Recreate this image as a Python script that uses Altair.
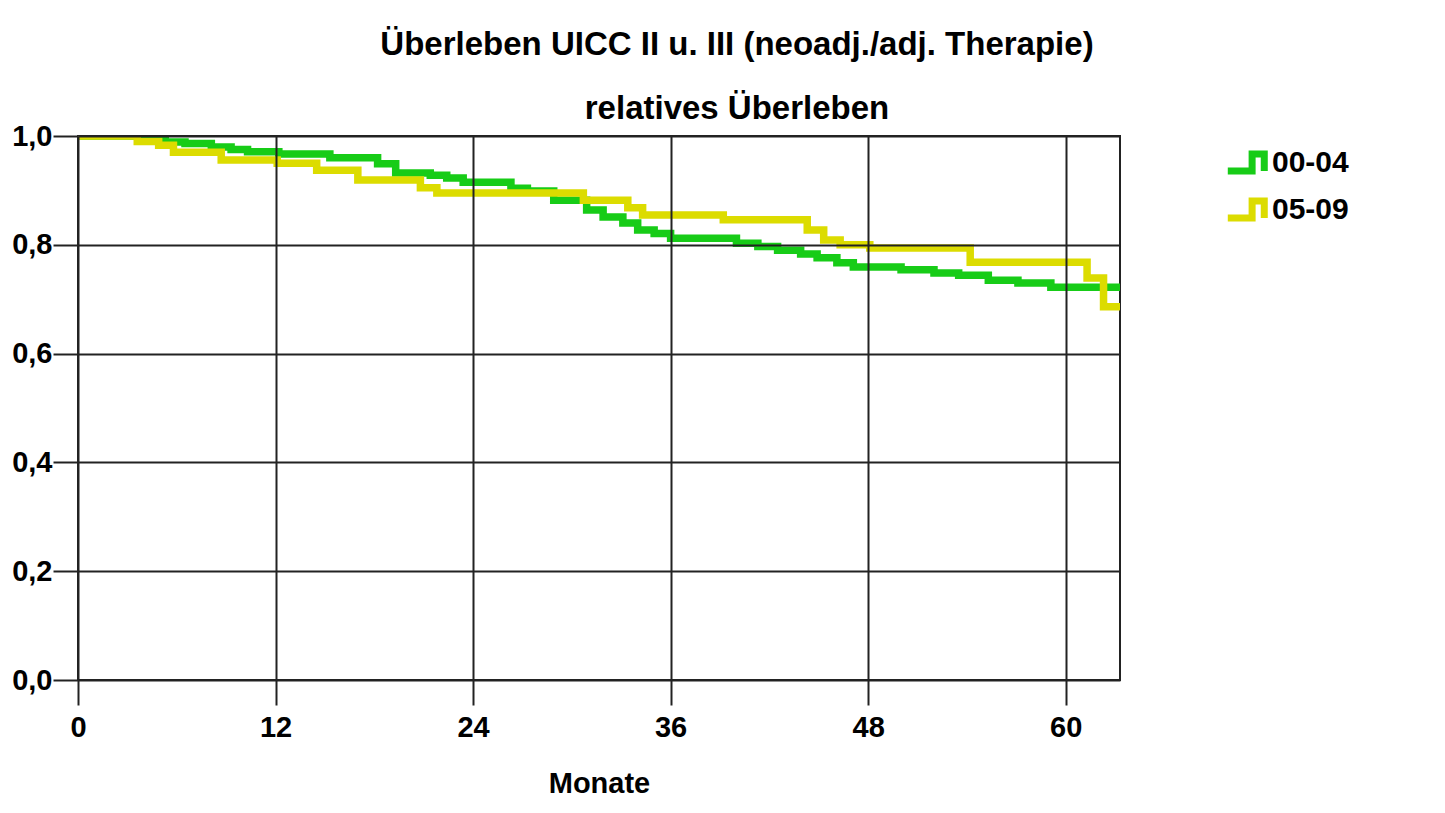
import altair as alt
import pandas as pd

# Kaplan-Meier style step curves (months, relative survival)
g_label = "00-04"
g_t = [0, 5.3, 6.5, 8.1, 9.3, 10.3, 12.2, 15.3, 18.2, 19.3, 21.4, 22.4, 23.4, 26.3, 27.3,
       28.9, 30.9, 31.9, 33.1, 34.0, 35.0, 36.0, 40.0, 41.3, 42.5, 43.9, 44.9, 46.1, 47.1,
       50.0, 52.0, 53.5, 55.3, 57.1, 59.1, 63.3]
g_s = [1.0, 0.989, 0.986, 0.98, 0.975, 0.971, 0.967, 0.96, 0.949, 0.932, 0.928, 0.923, 0.915,
       0.904, 0.899, 0.882, 0.864, 0.851, 0.84, 0.827, 0.821, 0.812, 0.803, 0.797, 0.79, 0.783,
       0.776, 0.767, 0.759, 0.754, 0.748, 0.744, 0.735, 0.73, 0.722, 0.722]

y_label = "05-09"
y_t = [0, 3.6, 4.9, 5.8, 8.7, 12.1, 14.5, 17.0, 20.8, 21.8, 30.7, 33.4, 34.3, 39.2, 44.3,
       45.3, 46.3, 48.1, 54.2, 61.3, 62.3, 63.3]
y_s = [1.0, 0.99, 0.983, 0.97, 0.956, 0.95, 0.937, 0.919, 0.905, 0.895, 0.882, 0.868, 0.855,
       0.846, 0.827, 0.809, 0.8, 0.794, 0.768, 0.739, 0.686, 0.686]

x_ticks = [0, 12, 24, 36, 48, 60]
y_ticks = [0.0, 0.2, 0.4, 0.6, 0.8, 1.0]

groups = [g_label, y_label]
colors = ["#17cc17", "#dcdc00"]

rows = []
for i, (t, s) in enumerate(zip(g_t, g_s)):
    rows.append({"Monate": t, "S": s, "Gruppe": g_label, "ord": 0, "i": i})
for i, (t, s) in enumerate(zip(y_t, y_s)):
    rows.append({"Monate": t, "S": s, "Gruppe": y_label, "ord": 1, "i": i})
df = pd.DataFrame(rows)

FONT = "Liberation Sans"

chart = alt.Chart(df).mark_line(
    interpolate="step-after", strokeWidth=7.5, clip=True, strokeCap="butt"
).encode(
    x=alt.X("Monate:Q", scale=alt.Scale(domain=[0, 63.3], nice=False, zero=False),
            axis=alt.Axis(values=x_ticks, title="Monate", grid=True, gridColor="#222",
                          gridWidth=2, tickSize=25, tickWidth=2, tickColor="#222",
                          domain=False, labelPadding=8, titlePadding=27, labelFlush=False,
                          labelFont=FONT, labelFontWeight="bold", labelColor="black",
                          titleFont=FONT, titleFontWeight="bold", titleColor="black",
                          labelFontSize=29, titleFontSize=29, zindex=1)),
    y=alt.Y("S:Q", scale=alt.Scale(domain=[0, 1], nice=False),
            axis=alt.Axis(values=y_ticks, title=None, grid=True, gridColor="#222",
                          gridWidth=2, tickSize=25, tickWidth=2, tickColor="#222",
                          domain=False, labelPadding=1, labelFontSize=29, zindex=1,
                          labelFlush=False,
                          labelFont=FONT, labelFontWeight="bold", labelColor="black",
                          labelExpr="replace(format(datum.value, '.1f'), '.', ',')")),
    color=alt.Color("Gruppe:N", scale=alt.Scale(domain=groups, range=colors),
                    legend=alt.Legend(title=None, orient="none", legendX=1146, legendY=4,
                                      symbolType="M-1,0.45H0.3V-0.45H0.95V0.45",
                                      symbolSize=1400, symbolStrokeWidth=7,
                                      labelFontSize=30, labelFont=FONT, labelFontWeight="bold",
                                      labelColor="black", labelOffset=3, rowPadding=2,
                                      padding=0)),
    order=alt.Order("i:Q"),
    detail="ord:N",
).properties(
    width=1042,
    height=544,
    autosize=alt.AutoSizeParams(type="none"),
    padding={"left": 70, "top": 128, "right": 310, "bottom": 124},
    title=alt.TitleParams(
        text="Überleben UICC II u. III (neoadj./adj. Therapie)",
        subtitle="relatives Überleben",
        fontSize=33, subtitleFontSize=33, font=FONT, subtitleFont=FONT,
        fontWeight="bold", subtitleFontWeight="bold", color="black", subtitleColor="black",
        anchor="middle", frame="group", dx=138, offset=-4, subtitlePadding=31,
    ),
).configure(
    background="white"
).configure_view(
    stroke="#222", strokeWidth=2
)

chart.save("out.html", embed_options={"renderer": "svg", "actions": False})
